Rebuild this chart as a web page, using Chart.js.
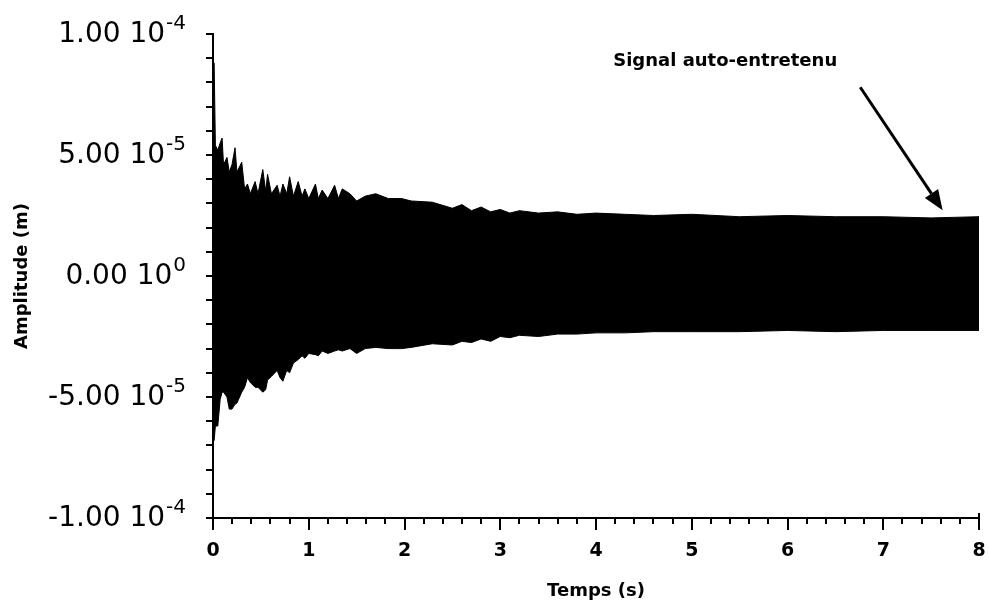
<!DOCTYPE html>
<html>
<head>
<meta charset="utf-8">
<script src="https://cdn.jsdelivr.net/npm/chart.js@4.4.1/dist/chart.umd.min.js"></script>
<style>
  html, body { margin: 0; padding: 0; background: #fff; }
  canvas { display: block; }
</style>
</head>
<body>
<canvas id="myChart" width="989" height="606"></canvas>
<script>
const temps = [
  0, 0.012, 0.025, 0.05, 0.075, 0.095, 0.11, 0.146, 0.17, 0.198,
  0.23, 0.25, 0.30, 0.33, 0.36, 0.39, 0.44, 0.47, 0.52, 0.55,
  0.57, 0.61, 0.67, 0.70, 0.73, 0.77, 0.80, 0.84, 0.89, 0.93,
  0.96, 1.00, 1.07, 1.10, 1.14, 1.20, 1.27, 1.31, 1.35, 1.43,
  1.50, 1.59, 1.70, 1.83, 1.97, 2.07, 2.29, 2.50, 2.6, 2.7,
  2.8, 2.9, 3.0, 3.1, 3.2, 3.4, 3.6, 3.8, 4.0, 4.3,
  4.6, 5.0, 5.5, 6.0, 6.5, 7.0, 7.5, 8.0
];

// Enveloppe haute (en 10^-5 m)
const enveloppeHaut = [
  8.8, 8.8, 5.4, 5.2, 5.5, 5.7, 4.6, 4.9, 4.3, 4.6,
  5.3, 4.3, 4.7, 3.6, 3.8, 3.4, 3.9, 3.4, 4.4, 3.5,
  4.2, 3.4, 3.75, 3.3, 3.8, 3.4, 4.1, 3.3, 3.9, 3.3,
  3.6, 3.2, 3.8, 3.2, 3.55, 3.2, 3.75, 3.2, 3.6, 3.4,
  3.1, 3.3, 3.4, 3.2, 3.2, 3.1, 3.05, 2.8, 2.95, 2.7,
  2.85, 2.65, 2.75, 2.6, 2.7, 2.6, 2.65, 2.55, 2.6, 2.55,
  2.5, 2.55, 2.45, 2.5, 2.45, 2.45, 2.4, 2.45
];

// Enveloppe basse (en 10^-5 m)
const enveloppeBas = [
  -6.8, -6.8, -6.2, -6.2, -5.1, -4.8, -4.8, -5.0, -5.5, -5.5,
  -5.3, -5.25, -4.8, -4.6, -4.2, -4.4, -4.6, -4.6, -4.8, -4.7,
  -4.3, -4.15, -3.9, -4.2, -4.35, -3.9, -4.0, -3.6, -3.45, -3.3,
  -3.4, -3.2, -3.25, -3.3, -3.1, -3.2, -3.1, -3.05, -3.1, -3.0,
  -3.2, -3.0, -2.95, -3.0, -3.0, -2.95, -2.8, -2.85, -2.7, -2.75,
  -2.6, -2.7, -2.5, -2.55, -2.45, -2.5, -2.4, -2.4, -2.35, -2.35,
  -2.3, -2.3, -2.3, -2.25, -2.3, -2.25, -2.25, -2.25
];

// Étiquettes de l'axe vertical
const yEtiquettesValeurs = [1e-4, 5e-5, 0, -5e-5, -1e-4];
const yEtiquettesMantisses = ["1.00 10", "5.00 10", "0.00 10", "-5.00 10", "-1.00 10"];
const yEtiquettesExposants = ["-4", "-5", "0", "-5", "-4"];

// Annotation
const annotationTexte = "Signal auto-entretenu";

const echelle = 1e-5;
const pointsHaut = temps.map((t, i) => ({ x: t, y: enveloppeHaut[i] * echelle }));
const pointsBas = temps.map((t, i) => ({ x: t, y: enveloppeBas[i] * echelle }));

// Axes, graduations, étiquettes et flèche
const decorPlugin = {
  id: "decor",
  afterDraw(chart) {
    const { ctx, chartArea, scales } = chart;
    const sx = scales.x;
    const sy = scales.y;
    const left = chartArea.left;
    const bottom = chartArea.bottom;

    ctx.save();
    ctx.strokeStyle = "#000";
    ctx.fillStyle = "#000";
    ctx.lineWidth = 2;

    // axes
    ctx.beginPath();
    ctx.moveTo(left, chartArea.top - 1);
    ctx.lineTo(left, bottom);
    ctx.lineTo(chartArea.right, bottom);
    ctx.lineTo(chartArea.right, bottom - 5);
    ctx.stroke();

    // graduations x (0.2 s)
    ctx.beginPath();
    for (let i = 0; i <= 40; i++) {
      const px = Math.round(sx.getPixelForValue(i * 0.2));
      const len = i % 5 === 0 ? 12 : 6;
      ctx.moveTo(px, bottom);
      ctx.lineTo(px, bottom + len);
    }
    ctx.stroke();

    // graduations y (1e-5)
    ctx.beginPath();
    for (let i = -10; i <= 10; i++) {
      const py = Math.round(sy.getPixelForValue(i * 1e-5));
      ctx.moveTo(left - 7, py);
      ctx.lineTo(left, py);
    }
    ctx.stroke();

    // étiquettes y avec exposant
    const droite = 186;
    yEtiquettesValeurs.forEach((v, i) => {
      const py = sy.getPixelForValue(v);
      ctx.font = "20px 'DejaVu Sans'";
      const wExp = ctx.measureText(yEtiquettesExposants[i]).width;
      ctx.textAlign = "left";
      ctx.textBaseline = "middle";
      ctx.fillText(yEtiquettesExposants[i], droite - wExp, py - 10);
      ctx.font = "28px 'DejaVu Sans'";
      ctx.textAlign = "right";
      ctx.fillText(yEtiquettesMantisses[i], droite - wExp - 1, py + 1);
    });

    // annotation
    ctx.font = "bold 18px 'DejaVu Sans'";
    ctx.textAlign = "left";
    ctx.textBaseline = "alphabetic";
    ctx.fillText(annotationTexte, sx.getPixelForValue(4.18), sy.getPixelForValue(8.66e-5));

    const x0 = sx.getPixelForValue(6.76), y0 = sy.getPixelForValue(7.8e-5);
    const x1 = sx.getPixelForValue(7.62), y1 = sy.getPixelForValue(2.72e-5);
    const ang = Math.atan2(y1 - y0, x1 - x0);
    const tete = 20, demi = 8;
    const bx = x1 - tete * Math.cos(ang), by = y1 - tete * Math.sin(ang);
    ctx.lineWidth = 3;
    ctx.beginPath();
    ctx.moveTo(x0, y0);
    ctx.lineTo(bx, by);
    ctx.stroke();
    ctx.beginPath();
    ctx.moveTo(x1, y1);
    ctx.lineTo(bx + demi * Math.sin(ang), by - demi * Math.cos(ang));
    ctx.lineTo(bx - demi * Math.sin(ang), by + demi * Math.cos(ang));
    ctx.closePath();
    ctx.fill();

    ctx.restore();
  },
};

const ctx = document.getElementById("myChart").getContext("2d");
const myChart = new Chart(ctx, {
  type: "line",
  data: {
    datasets: [
      {
        label: "Enveloppe haute",
        data: pointsHaut,
        borderColor: "#000",
        backgroundColor: "#000",
        borderWidth: 1,
        pointRadius: 0,
        fill: "+1",
        tension: 0,
      },
      {
        label: "Enveloppe basse",
        data: pointsBas,
        borderColor: "#000",
        backgroundColor: "#000",
        borderWidth: 1,
        pointRadius: 0,
        fill: false,
        tension: 0,
      },
    ],
  },
  options: {
    responsive: false,
    animation: false,
    layout: { padding: { left: 8, right: 10, top: 34, bottom: 0 } },
    plugins: {
      legend: { display: false },
      tooltip: { enabled: false },
    },
    scales: {
      x: {
        type: "linear",
        min: 0,
        max: 8,
        ticks: {
          stepSize: 1,
          padding: 22,
          color: "#000",
          font: { family: "DejaVu Sans", size: 19, weight: "bold" },
        },
        grid: { display: false, drawTicks: false },
        border: { display: false },
        title: {
          display: true,
          text: "Temps (s)",
          color: "#000",
          font: { family: "DejaVu Sans", size: 18, weight: "bold" },
          padding: { top: 0, bottom: 4 },
        },
        afterFit: (s) => {
          s.height = 88;
          s.paddingLeft = 0;
          s.paddingRight = 0;
        },
      },
      y: {
        min: -1e-4,
        max: 1e-4,
        ticks: { display: false },
        grid: { display: false, drawTicks: false },
        border: { display: false },
        title: {
          display: true,
          text: "Amplitude (m)",
          color: "#000",
          font: { family: "DejaVu Sans", size: 18, weight: "bold" },
          padding: { top: 4, bottom: 0 },
        },
        afterFit: (s) => { s.width = 205; },
      },
    },
  },
  plugins: [decorPlugin],
});
</script>
</body>
</html>
